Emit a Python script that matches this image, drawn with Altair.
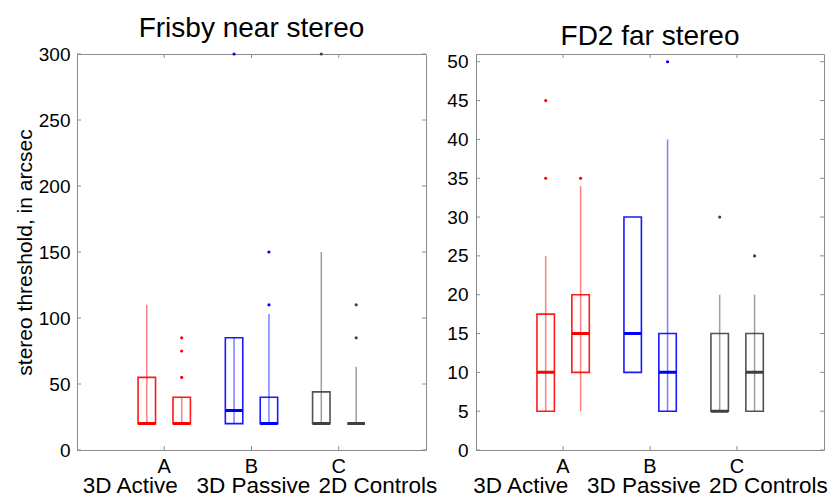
import altair as alt
import pandas as pd

categories = ["A", "B", "C"]
session_domain = ["1", "2"]
box_group = ["A", "A", "B", "B", "C", "C"]
box_session = ["1", "2", "1", "2", "1", "2"]
group_colors = ["#ff0000", "#0000ff", "#404040"]
x_title = ("3D Active\u00a0\u00a0\u00a03D Passive\u00a0\u200a2D Controls")

# Frisby near stereo (arcsec)
fr_q1 = [20, 20, 20, 20, 20, 20]
fr_med = [20, 20, 30, 20, 20, 20]
fr_q3 = [55, 40, 85, 40, 44, 20]
fr_lo = [20, 20, 20, 20, 20, 20]
fr_hi = [110, 40, 85, 103, 150, 63]
fr_out_group = ["A", "A", "A", "B", "B", "B", "C", "C", "C"]
fr_out_session = ["2", "2", "2", "1", "2", "2", "1", "2", "2"]
fr_out_value = [85, 75, 55, 300, 110, 150, 300, 110, 85]
fr_yticks = [0, 50, 100, 150, 200, 250, 300]

# FD2 far stereo (arcsec)
fd_q1 = [5, 10, 10, 5, 5, 5]
fd_med = [10, 15, 15, 10, 5, 10]
fd_q3 = [17.5, 20, 30, 15, 15, 15]
fd_lo = [5, 5, None, 5, 5, 5]
fd_hi = [25, 34, None, 40, 20, 20]
fd_out_group = ["A", "A", "A", "B", "C", "C"]
fd_out_session = ["1", "1", "2", "2", "1", "2"]
fd_out_value = [45, 35, 35, 50, 30, 25]
fd_yticks = [0, 5, 10, 15, 20, 25, 30, 35, 40, 45, 50]

FONT = "Liberation Sans"


def panel(title, q1, med, q3, lo, hi, og, osess, ov, ydomain, yticks, ytitle, width,
          label_pad, title_shift):
    boxes = pd.DataFrame({"group": box_group, "session": box_session,
                          "q1": q1, "med": med, "q3": q3, "lo": lo, "hi": hi})
    outs = pd.DataFrame({"group": og, "session": osess, "value": ov})
    xt = pd.DataFrame({"group": categories})
    yt = pd.DataFrame({"v": yticks})

    xaxis = alt.Axis(labelFontSize=20, labelFont=FONT, labelPadding=6, labelAngle=0,
                     labelColor="black", domain=False, ticks=False, title=x_title,
                     titleFont=FONT, titleFontSize=22.5, titleFontWeight="normal",
                     titlePadding=-2, titleColor="black", titleX=width / 2 + title_shift)
    yaxis = alt.Axis(values=yticks, labelFontSize=19, labelFont=FONT, labelPadding=label_pad,
                     labelColor="black", domain=False, ticks=False, grid=False,
                     title=ytitle, titleFont=FONT, titleFontSize=21, titleFontWeight="normal",
                     titlePadding=3, titleColor="black")
    X = alt.X("group:N", scale=alt.Scale(domain=categories, paddingInner=0, paddingOuter=0.5),
              axis=xaxis)
    XO = alt.XOffset("session:N", scale=alt.Scale(domain=session_domain, paddingInner=0.5,
                                                  paddingOuter=0.5))
    yscale = alt.Scale(domain=ydomain, nice=False, zero=False)
    stroke = alt.Stroke("group:N", scale=alt.Scale(domain=categories, range=group_colors),
                        legend=None)
    color = alt.Color("group:N", scale=alt.Scale(domain=categories, range=group_colors),
                      legend=None)

    base = alt.Chart(boxes)
    whisk = base.mark_rule(strokeWidth=1.5, strokeOpacity=0.5).encode(
        x=X, xOffset=XO, y=alt.Y("lo:Q", scale=yscale, axis=yaxis), y2="hi:Q", stroke=stroke)
    box = base.mark_rect(fillOpacity=0, strokeWidth=1.6, strokeOpacity=0.9).encode(
        x=X, xOffset=XO, y=alt.Y("q1:Q", scale=yscale, axis=yaxis), y2="q3:Q", stroke=stroke)
    median = base.mark_rect(fillOpacity=0, strokeWidth=3).encode(
        x=X, xOffset=XO, y=alt.Y("med:Q", scale=yscale, axis=yaxis), y2="med:Q", stroke=stroke)
    pts = alt.Chart(outs).mark_circle(size=10, opacity=1).encode(
        x=X, xOffset=XO, y=alt.Y("value:Q", scale=yscale, axis=yaxis), color=color)

    tick_color = "#8c8c8c"
    xt_bottom = alt.Chart(xt).mark_rule(color=tick_color, strokeWidth=1).encode(
        x=X, y=alt.value(396), y2=alt.value(392))
    xt_top = alt.Chart(xt).mark_rule(color=tick_color, strokeWidth=1).encode(
        x=X, y=alt.value(0), y2=alt.value(4))
    yt_left = alt.Chart(yt).mark_rule(color=tick_color, strokeWidth=1).encode(
        y=alt.Y("v:Q", scale=yscale, axis=yaxis), x=alt.value(0), x2=alt.value(4))
    yt_right = alt.Chart(yt).mark_rule(color=tick_color, strokeWidth=1).encode(
        y=alt.Y("v:Q", scale=yscale, axis=yaxis), x=alt.value(width - 4), x2=alt.value(width))

    return alt.layer(whisk, box, median, pts, xt_bottom, xt_top, yt_left, yt_right).properties(
        width=width, height=396,
        title=alt.Title(title, fontSize=28, font=FONT, fontWeight="normal", anchor="middle",
                        offset=2, color="black"))


left = panel("Frisby near stereo", fr_q1, fr_med, fr_q3, fr_lo, fr_hi,
             fr_out_group, fr_out_session, fr_out_value, [0, 300], fr_yticks,
             "stereo threshold, in arcsec", 349, 7, 8)
right = panel("FD2 far stereo", fd_q1, fd_med, fd_q3, fd_lo, fd_hi,
              fd_out_group, fd_out_session, fd_out_value, [0, 51], fd_yticks,
              None, 348, 8, 0)

chart = alt.hconcat(left, right, spacing=50, bounds="flush").properties(
    padding={"left": 5, "top": 6, "right": 0, "bottom": 0}
).configure_view(stroke="#8c8c8c", strokeWidth=1)

chart.save("out.html", embed_options={"renderer": "svg", "actions": False})
